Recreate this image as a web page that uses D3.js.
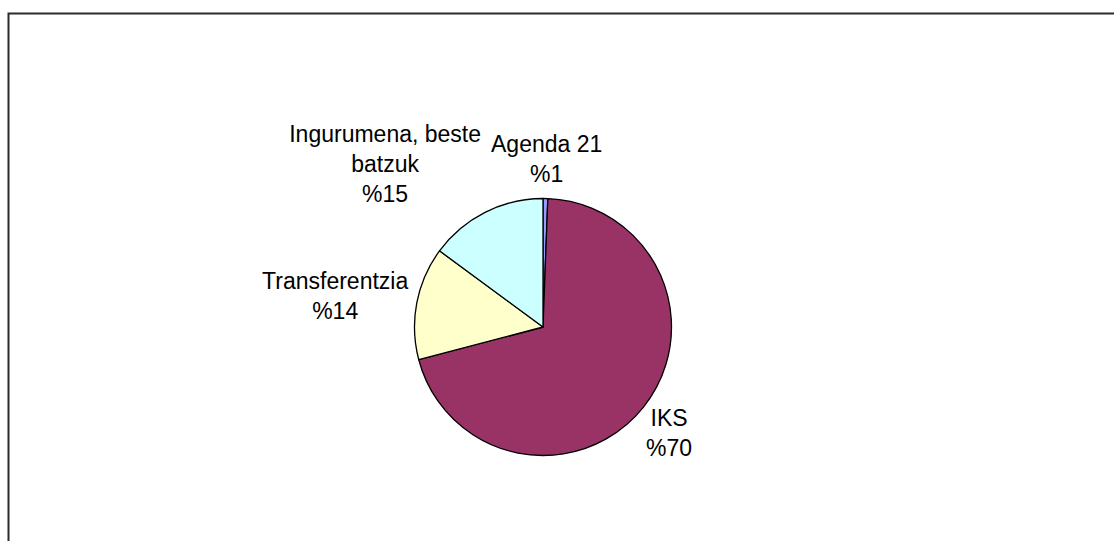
<!DOCTYPE html>
<html>
<head>
<meta charset="utf-8">
<script src="https://cdn.jsdelivr.net/npm/d3@7"></script>
<style>
  body { margin: 0; background: #fff; }
  svg { display: block; }
</style>
</head>
<body>
<svg id="chart" width="1114" height="541"></svg>
<script>
// slices in clockwise order from 12 o'clock
var categories = ["Agenda 21", "IKS", "Transferentzia", "Ingurumena, beste batzuk"];
var labelLines = [["Agenda 21"], ["IKS"], ["Transferentzia"], ["Ingurumena, beste", "batzuk"]];
var values = [0.6, 70.3, 14.2, 14.9];
var colors = ["#9999FF", "#993366", "#FFFFCC", "#CCFFFF"];

var width = 1114, height = 541,
    cx = 543, cy = 327,
    radius = 128.5,
    fontSize = 23,
    lineH = 30,
    font = "'Liberation Sans', Arial, sans-serif";

var svg = d3.select("#chart");

// chart area frame (runs off the right and bottom edge)
svg.append("rect")
    .attr("x", 8.5).attr("y", 13.5)
    .attr("width", 1200).attr("height", 700)
    .attr("fill", "none")
    .attr("stroke", "#2b2b2b")
    .attr("stroke-width", 2);

var total = d3.sum(values);
var pie = d3.pie().sort(null).value(function(d){ return d; });
var arcs = pie(values);
var arc = d3.arc().innerRadius(0).outerRadius(radius);

var g = svg.append("g").attr("transform", "translate(" + cx + "," + cy + ")");

g.selectAll("path").data(arcs).enter().append("path")
    .attr("d", arc)
    .attr("fill", function(d, i){ return colors[i]; })
    .attr("stroke", "#000")
    .attr("stroke-width", 1.3)
    .attr("stroke-linejoin", "round");

// labels: build text, then place box against a point just outside the rim
var labels = arcs.map(function(d, i){
    var lines = labelLines[i].concat(["%" + Math.round(d.value / total * 100)]);
    var t = g.append("text")
        .attr("font-family", font)
        .attr("font-size", fontSize)
        .attr("fill", "#000")
        .attr("text-anchor", "middle");
    lines.forEach(function(s){ t.append("tspan").text(s); });
    var w = 0;
    t.selectAll("tspan").each(function(){
        var l = this.getComputedTextLength();
        if (l > w) w = l;
    });
    var h = lines.length * lineH;
    var a = (d.startAngle + d.endAngle) / 2;
    var px = (radius + 10) * Math.sin(a),
        py = -(radius + 10) * Math.cos(a);
    return {
        node: t, lines: lines, w: w, h: h, a: a,
        x: px + Math.sin(a) * w / 2,
        y: py - Math.cos(a) * h / 2
    };
});

// simple collision pass: push the left-hand label away horizontally
for (var i = 0; i < labels.length; i++) {
    for (var j = 0; j < labels.length; j++) {
        if (i == j) continue;
        var A = labels[i], B = labels[j];
        var overlapX = (A.w + B.w) / 2 + 10 - Math.abs(A.x - B.x);
        var overlapY = (A.h + B.h) / 2 - Math.abs(A.y - B.y);
        if (overlapX > 0 && overlapY > 0 && A.x < B.x && A.a > Math.PI) {
            A.x -= overlapX;
        }
    }
}

labels.forEach(function(L){
    var top = L.y - L.h / 2;
    L.node.selectAll("tspan")
        .attr("x", L.x)
        .attr("y", function(d, k){ return top + lineH * k + lineH / 2 + fontSize * 0.36; });
});
</script>
</body>
</html>
